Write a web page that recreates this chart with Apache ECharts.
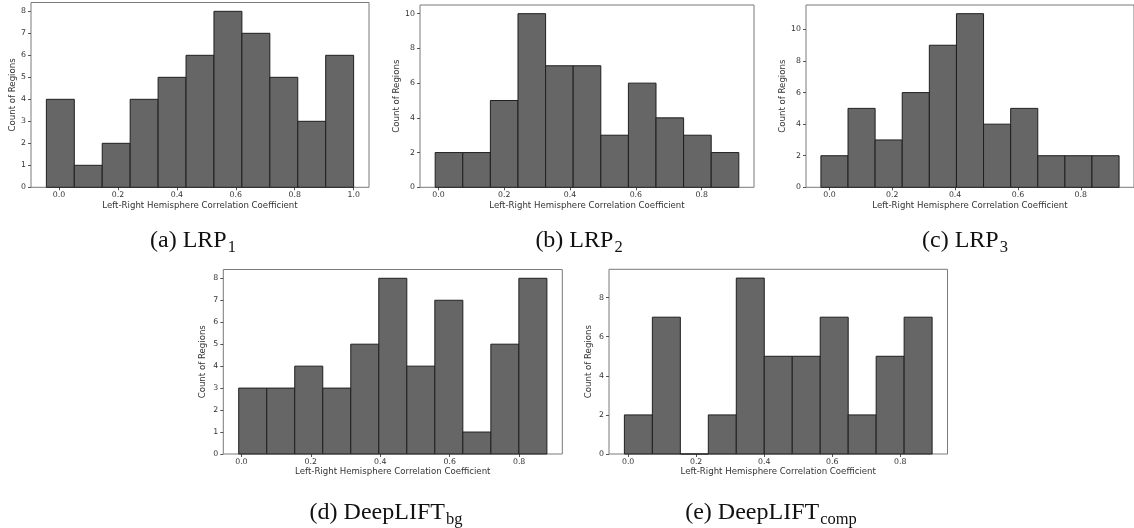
<!DOCTYPE html>
<html>
<head>
<meta charset="utf-8">
<script src="https://cdn.jsdelivr.net/npm/echarts@6/dist/echarts.min.js"></script>
<style>
  html, body { margin: 0; padding: 0; background: #fff; }
  #chart { width: 1134px; height: 528px; }
</style>
</head>
<body>
<div id="chart"></div>
<script>
// histogram counts per panel (11 bins each)
const lrp1Counts = [4, 1, 2, 4, 5, 6, 8, 7, 5, 3, 6]
const lrp2Counts = [2, 2, 5, 10, 7, 7, 3, 6, 4, 3, 2]
const lrp3Counts = [2, 5, 3, 6, 9, 11, 4, 5, 2, 2, 2]
const bgCounts = [3, 3, 4, 3, 5, 8, 4, 7, 1, 5, 8]
const compCounts = [2, 7, 0, 2, 9, 5, 5, 7, 2, 5, 7]

// first and last bin edge per panel
const lrp1Range = [-0.043, 1.0]
const lrp2Range = [-0.010, 0.913]
const lrp3Range = [-0.027, 0.922]
const bgRange = [-0.0077, 0.880]
const compRange = [-0.011, 0.894]

// tick labels
const xTicksWide = [0.0, 0.2, 0.4, 0.6, 0.8, 1.0]
const xTicks = [0.0, 0.2, 0.4, 0.6, 0.8]
const yTicks8 = [0, 1, 2, 3, 4, 5, 6, 7, 8]
const yTicks10 = [0, 2, 4, 6, 8, 10]
const yTicksEven8 = [0, 2, 4, 6, 8]

const captions = ['(a) LRP', '(b) LRP', '(c) LRP', '(d) DeepLIFT', '(e) DeepLIFT']
const captionSubs = ['1', '2', '3', 'bg', 'comp']

const panels = [
  { counts: lrp1Counts, range: lrp1Range, xTicks: xTicksWide, yTicks: yTicks8,
    grid: { left: 31, top: 2.5, width: 338, height: 184.8 }, cap: [188, 221] },
  { counts: lrp2Counts, range: lrp2Range, xTicks: xTicks, yTicks: yTicks10,
    grid: { left: 420, top: 5, width: 334, height: 182.3 }, cap: [574, 221] },
  { counts: lrp3Counts, range: lrp3Range, xTicks: xTicks, yTicks: yTicks10,
    grid: { left: 806, top: 5, width: 334, height: 182.3 }, cap: [960, 221] },
  { counts: bgCounts, range: bgRange, xTicks: xTicks, yTicks: yTicks8,
    grid: { left: 223.3, top: 269.5, width: 339, height: 184.5 }, cap: [381, 493] },
  { counts: compCounts, range: compRange, xTicks: xTicks, yTicks: yTicksEven8,
    grid: { left: 609, top: 269.3, width: 338.5, height: 184.7 }, cap: [766, 493] }
]

const tickFont = { fontFamily: 'DejaVu Sans', fontSize: 7.8, color: '#333' }
const nameFont = { fontFamily: 'DejaVu Sans', fontSize: 8.6, color: '#333' }

const chart = echarts.init(document.getElementById('chart'), null, { renderer: 'canvas' })

const grids = [], xAxes = [], yAxes = [], series = [], titles = []

panels.forEach((p, i) => {
  const [lo, hi] = p.range
  const n = p.counts.length
  const w = (hi - lo) / n
  const pad = (hi - lo) * 0.05
  const bins = p.counts.map((c, k) => [lo + k * w, lo + (k + 1) * w, c])

  grids.push(Object.assign({ show: true, borderColor: '#7a7a7a', borderWidth: 1, containLabel: false }, p.grid))

  xAxes.push({
    type: 'value', gridIndex: i,
    min: lo - pad, max: hi + pad,
    axisLine: { show: false, onZero: false },
    splitLine: { show: false },
    axisTick: { show: true, length: 3, lineStyle: { color: '#555' }, customValues: p.xTicks },
    axisLabel: Object.assign({ margin: 4, customValues: p.xTicks, formatter: v => v.toFixed(1) }, tickFont),
    name: 'Left-Right Hemisphere Correlation Coefficient',
    nameLocation: 'middle', nameGap: 13.5,
    nameTextStyle: nameFont
  })

  const ymax = Math.max(...p.counts) * 1.05
  yAxes.push({
    type: 'value', gridIndex: i,
    min: 0, max: ymax,
    axisLine: { show: false, onZero: false },
    splitLine: { show: false },
    axisTick: { show: true, length: 3, lineStyle: { color: '#555' }, customValues: p.yTicks },
    axisLabel: Object.assign({ margin: 5, customValues: p.yTicks }, tickFont),
    name: 'Count of Regions',
    nameLocation: 'middle', nameGap: i === 0 ? 12 : 16,
    nameTextStyle: nameFont
  })

  series.push({
    type: 'custom',
    xAxisIndex: i, yAxisIndex: i,
    data: bins,
    encode: { x: [0, 1], y: 2 },
    renderItem: (params, api) => {
      const a = api.coord([api.value(0), api.value(2)])
      const b = api.coord([api.value(1), 0])
      return {
        type: 'rect',
        shape: { x: a[0], y: a[1], width: b[0] - a[0], height: b[1] - a[1] },
        style: { fill: '#666666', stroke: '#1f1f1f', lineWidth: 1 }
      }
    },
    animation: false
  })

  titles.push({
    text: '{m|' + captions[i] + '}{s|' + captionSubs[i] + '}',
    left: p.cap[0], top: p.cap[1], textAlign: 'center',
    textStyle: {
      fontWeight: 'normal',
      rich: {
        m: { fontFamily: 'Liberation Serif', fontWeight: 'normal', fontSize: 24, color: '#111', lineHeight: 29 },
        s: { fontFamily: 'Liberation Serif', fontWeight: 'normal', fontSize: 16.5, color: '#111', lineHeight: 16, padding: [14, 0, 0, 1] }
      }
    }
  })
})

chart.setOption({
  animation: false,
  backgroundColor: '#fff',
  title: titles,
  grid: grids,
  xAxis: xAxes,
  yAxis: yAxes,
  series: series
})
</script>
</body>
</html>
